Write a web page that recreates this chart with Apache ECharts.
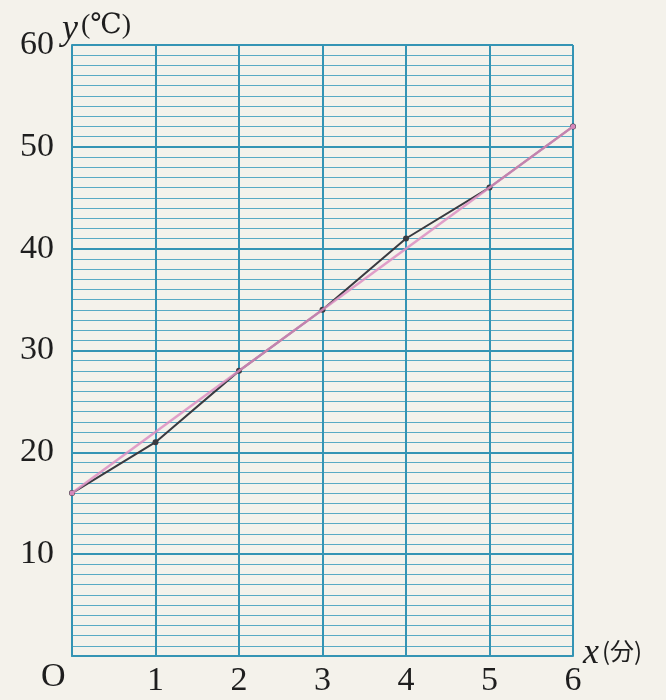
<!DOCTYPE html>
<html>
<head>
<meta charset="utf-8">
<script src="https://cdn.jsdelivr.net/npm/echarts@6/dist/echarts.min.js"></script>
<style>
  html, body { margin: 0; padding: 0; background: #f4f2eb; }
  #chart { width: 666px; height: 700px; }
</style>
</head>
<body>
<div id="chart"></div>
<script>
// minutes and measured temperature
var minutes = [0, 1, 2, 3, 4, 5, 6];
var temps = [16, 21, 28, 34, 41, 46, 52];
// straight fitted line drawn in pink
var fitX = [0, 6];
var fitY = [16, 52];
var yTicks = [10, 20, 30, 40, 50, 60];

var serif = '"Liberation Serif", "DejaVu Serif", serif';
var gridColor = '#3594b4';
var minorColor = '#3d9dbd';
var ink = '#1e1e1e';

var chart = echarts.init(document.getElementById('chart'));

var option = {
    backgroundColor: '#f4f2eb',
    animation: false,
    grid: { left: 72, right: 93, top: 45, bottom: 44 },
    xAxis: {
        type: 'value',
        min: 0,
        max: 6,
        interval: 1,
        axisLine: { show: true, lineStyle: { color: gridColor, width: 2 } },
        axisTick: { show: false },
        splitLine: { show: true, lineStyle: { color: gridColor, width: 2 } },
        axisLabel: {
            color: ink,
            fontFamily: serif,
            fontSize: 34,
            margin: 8,
            formatter: function (v) { return v === 0 ? '' : String(v); }
        }
    },
    yAxis: {
        type: 'value',
        min: 0,
        max: 60,
        interval: 10,
        axisLine: { show: true, lineStyle: { color: gridColor, width: 2 } },
        axisTick: { show: false },
        splitLine: { show: true, lineStyle: { color: gridColor, width: 2 } },
        minorTick: { show: false, splitNumber: 10 },
        minorSplitLine: { show: true, lineStyle: { color: minorColor, width: 1, opacity: 0.85 } },
        axisLabel: {
            color: ink,
            fontFamily: serif,
            fontSize: 34,
            margin: 18,
            formatter: function (v) { return yTicks.indexOf(v) >= 0 ? String(v) : ''; }
        }
    },
    graphic: [
        {
            type: 'text', left: 41, top: 660,
            style: { text: 'O', font: '34px ' + serif, fill: ink }
        },
        {
            type: 'text', left: 62, top: 12,
            style: {
                text: '{v|y}{u|(℃)}',
                rich: {
                    v: { font: 'italic 36px ' + serif, fill: ink },
                    u: { font: '28px ' + serif, fill: ink, padding: [0, 0, 8, 3] }
                }
            }
        },
        {
            type: 'text', left: 583, top: 636,
            style: {
                text: '{v|x}{u|(分)}',
                rich: {
                    v: { font: 'italic 36px ' + serif, fill: ink },
                    u: { font: '24px "Noto Sans CJK JP", ' + serif, fill: ink, padding: [0, 0, 6, 3] }
                }
            }
        }
    ],
    series: [
        {
            name: '実測',
            type: 'line',
            data: minutes.map(function (m, i) { return [m, temps[i]]; }),
            symbol: 'circle',
            symbolSize: 6,
            itemStyle: { color: '#3a3a40' },
            lineStyle: { color: '#3a3a40', width: 2 },
            z: 3
        },
        {
            name: '直線',
            type: 'line',
            data: fitX.map(function (m, i) { return [m, fitY[i]]; }),
            symbol: 'circle',
            symbolSize: 5,
            itemStyle: { color: '#d688bb' },
            lineStyle: { color: '#dc8fc2', width: 2.5, opacity: 0.85 },
            z: 4
        }
    ]
};

chart.setOption(option);
</script>
</body>
</html>
